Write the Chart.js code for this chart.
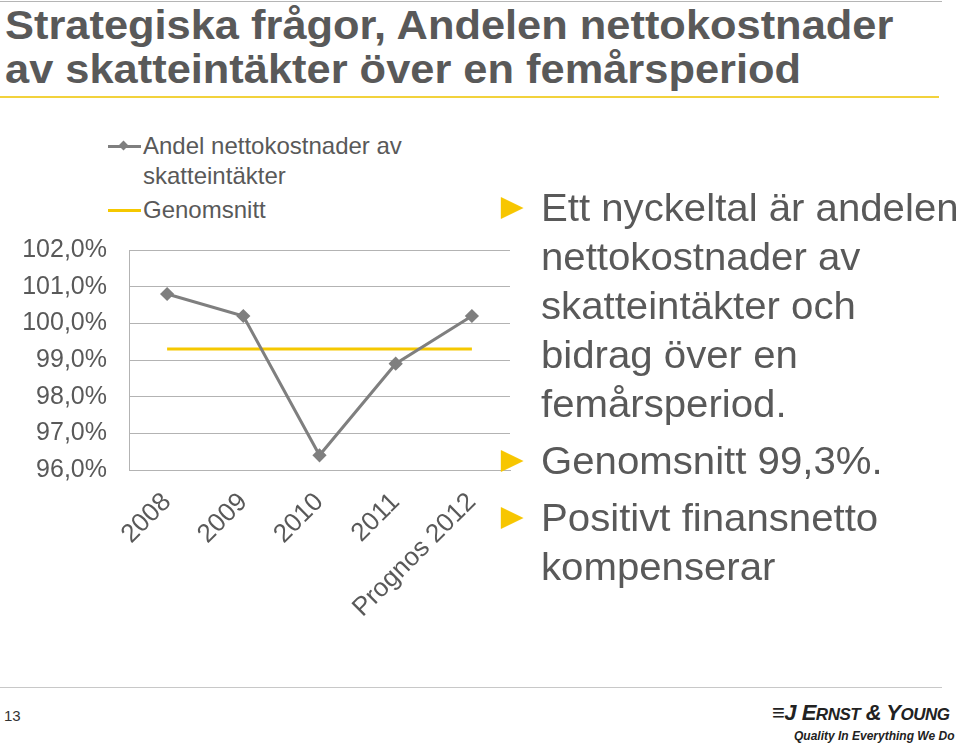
<!DOCTYPE html>
<html>
<head>
<meta charset="utf-8">
<script src="https://cdn.jsdelivr.net/npm/chart.js@4.4.0/dist/chart.umd.min.js"></script>
<style>
  body { margin: 0; width: 960px; height: 743px; background: #fff; overflow: hidden;
         font-family: Arial, "Liberation Sans", sans-serif; color: #595959; position: relative; }
  .rule { position: absolute; left: 0; height: 2px; }
  #title { position: absolute; left: 5px; top: 3px; font-size: 40px; font-weight: bold; line-height: 44px;
           transform: scaleX(1.085); transform-origin: left top; white-space: nowrap; }
  #chartBox { position: absolute; left: 0; top: 213px; width: 520px; height: 437px; }
  #legend { position: absolute; left: 108px; top: 131px; width: 300px; font-size: 24px; line-height: 30px; }
  .lg { position: relative; padding-left: 35px; margin-bottom: 4px; }
  .lg .ln { position: absolute; left: 0; top: 14px; width: 33px; height: 3px; }
  .lg .mk { position: absolute; left: 12px; top: 11px; width: 7px; height: 7px; transform: rotate(45deg); }
  #bullets { position: absolute; left: 541px; top: 183px; font-size: 39px; line-height: 49px;
             transform: scaleX(1.03); transform-origin: left top; white-space: nowrap; }
  #bullets .b { position: relative; margin-bottom: 8px; }
  #bullets .b:before { content: ""; position: absolute; left: -39px; top: 14px; border-left: 22px solid #f7c600;
                       border-top: 11px solid transparent; border-bottom: 11px solid transparent; }
  #page { position: absolute; left: 4px; top: 707px; font-size: 15px; color: #333; }
  #ey { position: absolute; left: 772px; top: 700px; font-size: 22px; font-style: italic; font-weight: bold;
        color: #222; letter-spacing: -0.5px; font-family: "Liberation Sans Narrow", Arial, sans-serif; }
  #ey .sm { font-size: 17px; }
  #quality { position: absolute; left: 794px; top: 729px; font-size: 12px; font-style: italic; font-weight: bold;
             color: #222; font-family: "Liberation Sans Narrow", Arial, sans-serif; }
</style>
</head>
<body>
<div class="rule" style="top:1px; width:942px; background:#b5b5b5; height:1px;"></div>
<div id="title">Strategiska frågor, Andelen nettokostnader<br>av skatteintäkter över en femårsperiod</div>
<div class="rule" style="top:96px; width:939px; background:#f2d23c;"></div>

<div id="legend"></div>
<div id="chartBox"><canvas id="myChart" width="520" height="437"></canvas></div>

<div id="bullets">
  <div class="b">Ett nyckeltal är andelen<br>nettokostnader av<br>skatteintäkter och<br>bidrag över en<br>femårsperiod.</div>
  <div class="b">Genomsnitt 99,3%.</div>
  <div class="b">Positivt finansnetto<br>kompenserar</div>
</div>

<div class="rule" style="top:687px; width:942px; background:#c8c8c8; height:1px;"></div>
<div id="page">13</div>
<div id="ey">&#8801;J E<span class="sm">RNST</span> &amp; Y<span class="sm">OUNG</span></div>
<div id="quality">Quality In Everything We Do</div>

<script>
const years = ['2008', '2009', '2010', '2011', 'Prognos 2012']
const andel = [100.8, 100.2, 96.4, 98.9, 100.2]
const genomsnitt = [99.3, 99.3, 99.3, 99.3, 99.3]
const seriesNames = ['Andel nettokostnader av skatteintäkter', 'Genomsnitt']
const yMin = 96, yMax = 102, yStep = 1

const textGray = '#595959'
const ctx = document.getElementById('myChart').getContext('2d')

const config = {
    type: 'line',
    data: {
        labels: years,
        datasets: [{
            label: seriesNames[0],
            data: andel,
            borderColor: '#7f7f7f',
            backgroundColor: '#7f7f7f',
            borderWidth: 3,
            pointStyle: 'rectRot',
            pointRadius: 5,
            tension: 0
        }, {
            label: seriesNames[1],
            data: genomsnitt,
            borderColor: '#f5c800',
            backgroundColor: '#f5c800',
            borderWidth: 3,
            pointRadius: 0,
            tension: 0
        }]
    },
    options: {
        responsive: false,
        animation: false,
        layout: { padding: { top: 2, right: 10, left: 0, bottom: 0 } },
        plugins: { legend: { display: false }, tooltip: { enabled: false } },
        scales: {
            x: {
                offset: true,
                grid: { display: false, drawTicks: false },
                border: { display: true, color: '#b3b3b3', width: 1 },
                ticks: {
                    color: textGray,
                    font: { family: 'Arial, "Liberation Sans"', size: 26 },
                    minRotation: 45,
                    maxRotation: 45,
                    padding: 17,
                    autoSkip: false
                },
                afterFit: (scale) => { scale.height = 180 }
            },
            y: {
                min: yMin,
                max: yMax,
                grid: { color: '#b3b3b3', lineWidth: 1, drawTicks: false },
                border: { display: true, color: '#b3b3b3', width: 1 },
                ticks: {
                    stepSize: yStep,
                    color: textGray,
                    padding: 22,
                    font: { family: 'Arial, "Liberation Sans"', size: 25 },
                    callback: (v) => v.toFixed(1).replace('.', ',') + '%'
                },
                afterFit: (scale) => { scale.width = 129 }
            }
        }
    }
}
const myChart = new Chart(ctx, config)

// legend built from the datasets
const legend = document.getElementById('legend')
myChart.data.datasets.forEach((ds) => {
    const item = document.createElement('div')
    item.className = 'lg'
    let html = '<span class="ln" style="background:' + ds.borderColor + '"></span>'
    if (ds.pointRadius > 0) html += '<span class="mk" style="background:' + ds.borderColor + '"></span>'
    item.innerHTML = html + ds.label
    legend.appendChild(item)
})
</script>
</body>
</html>
